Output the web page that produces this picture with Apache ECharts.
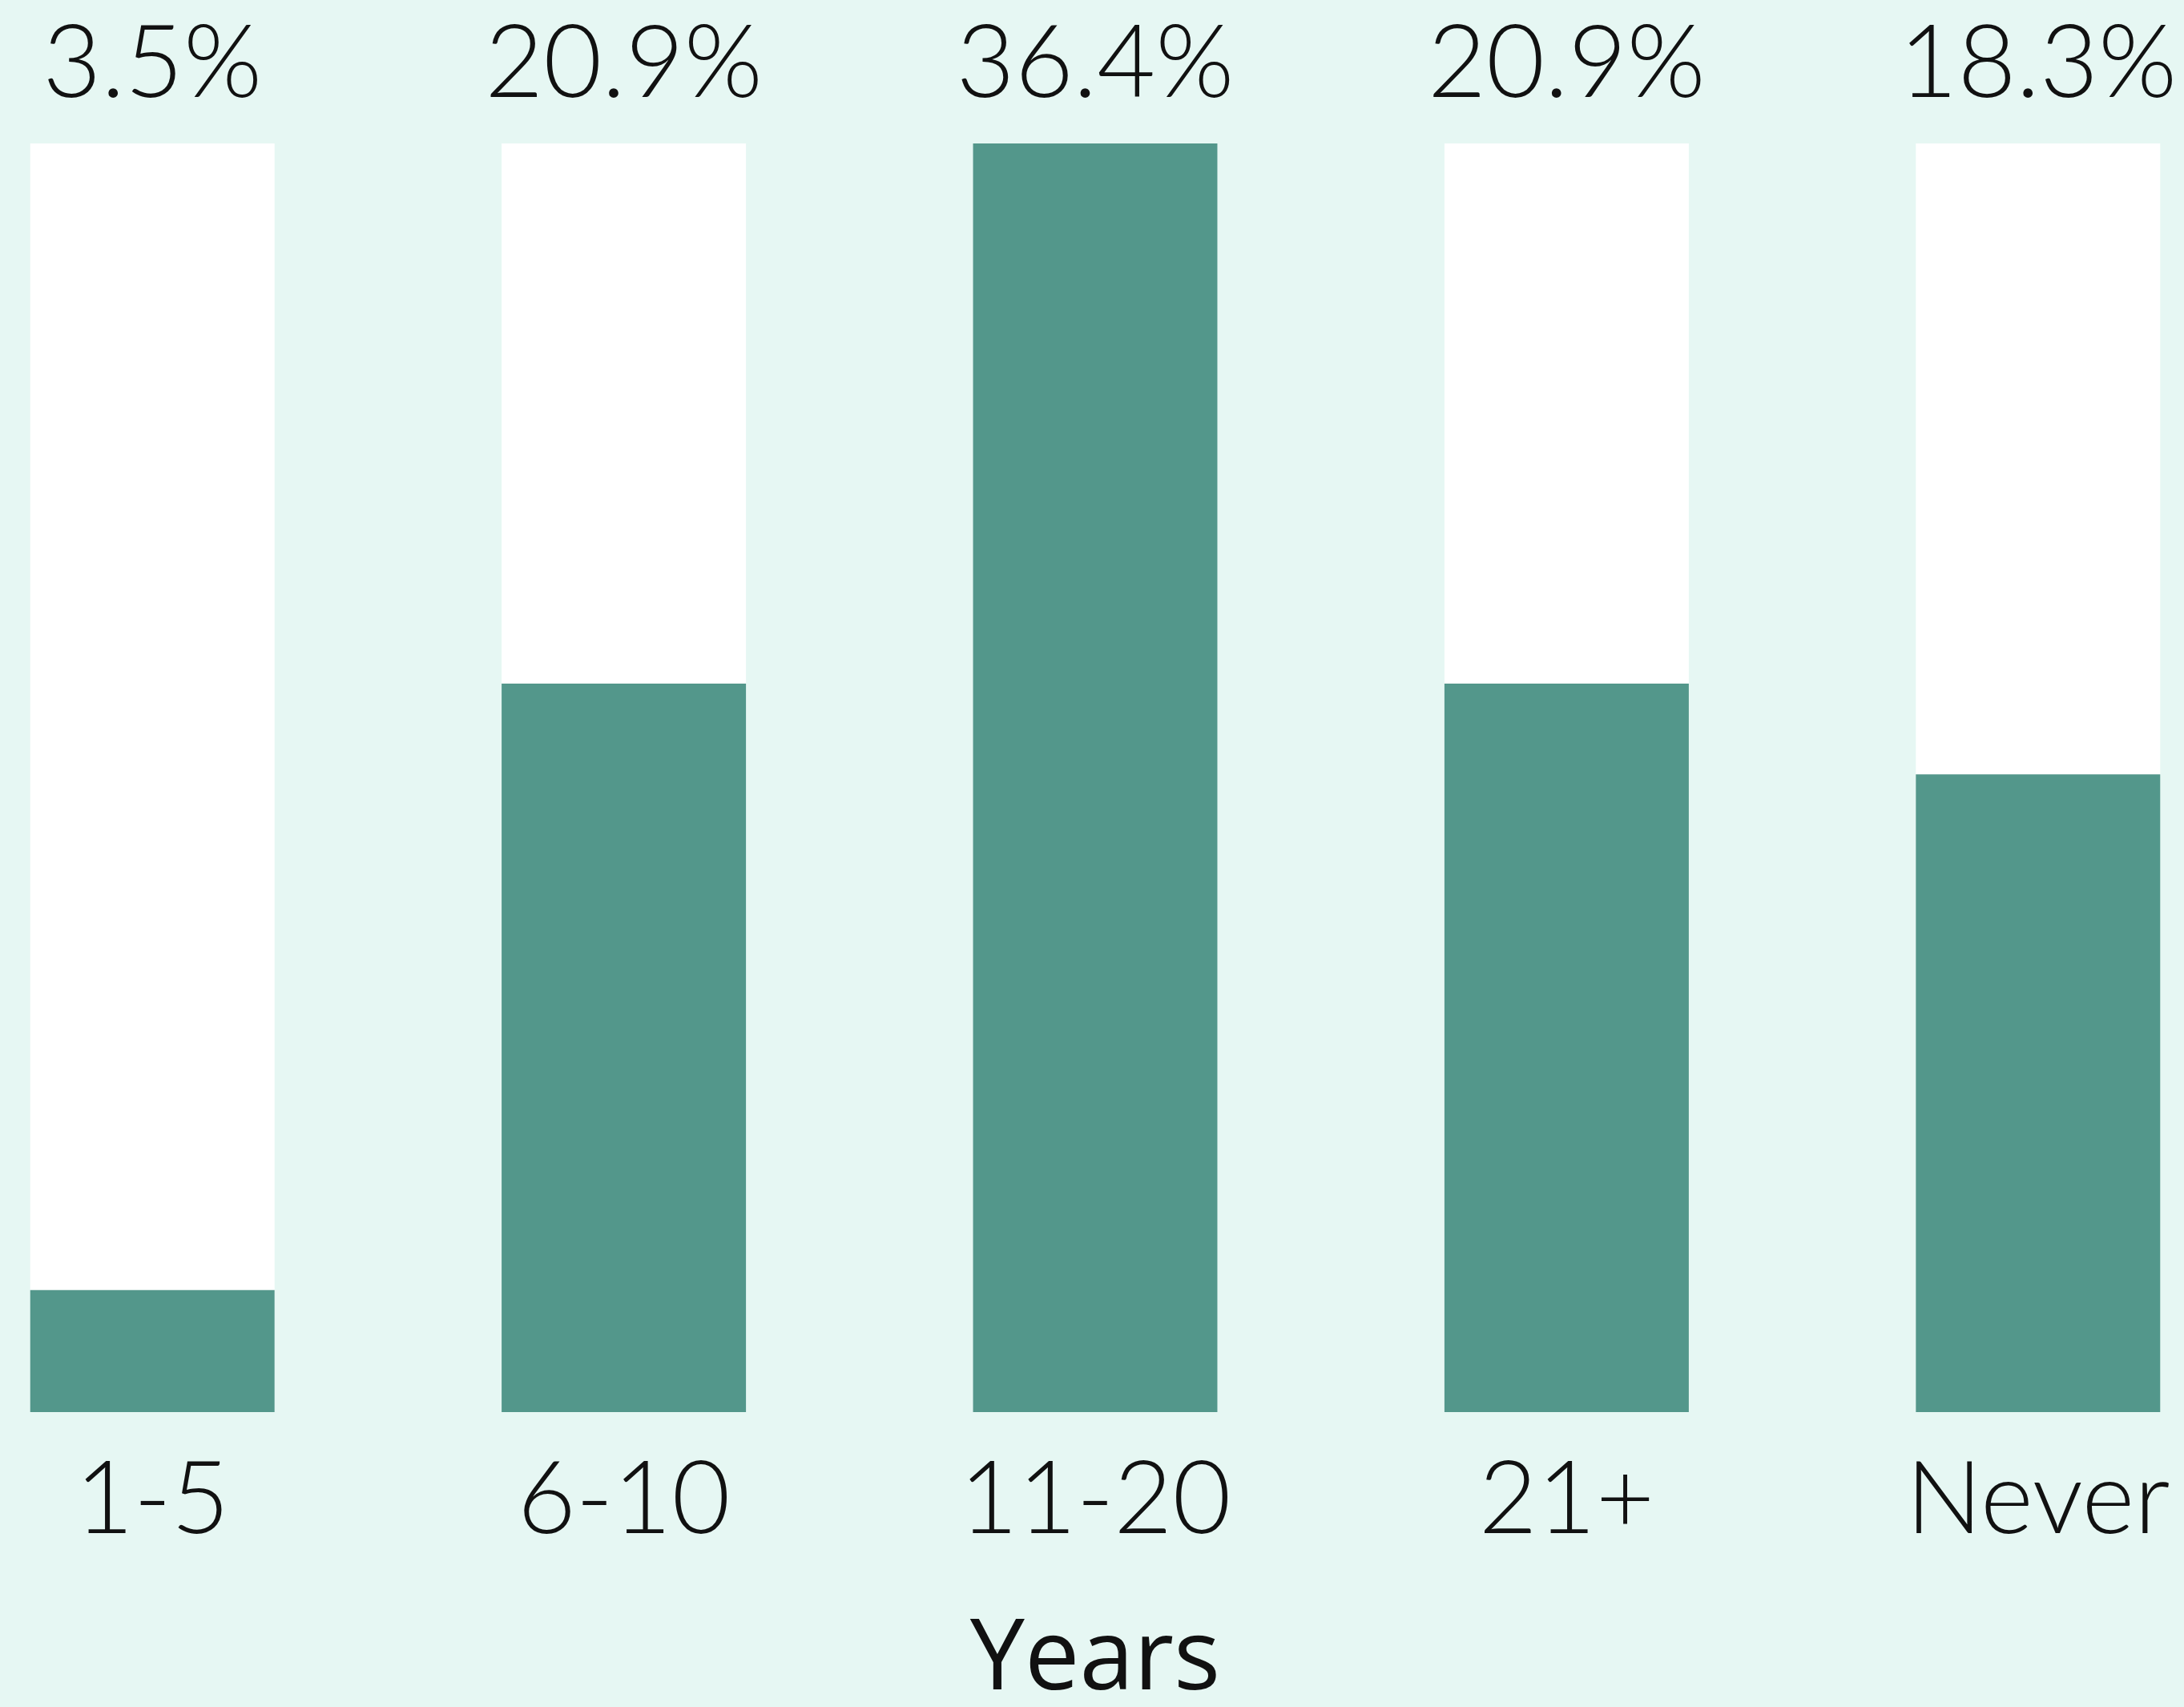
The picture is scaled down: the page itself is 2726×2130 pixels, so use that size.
<!DOCTYPE html>
<html>
<head>
<meta charset="utf-8">
<script src="https://cdn.jsdelivr.net/npm/echarts@6/dist/echarts.min.js"></script>
<style>
html,body{margin:0;padding:0;background:#e6f7f3;}
#chart{width:2726px;height:2130px;}
</style>
</head>
<body>
<div id="chart"></div>
<script>
const categories = ['1-5', '6-10', '11-20', '21+', 'Never'];
const values = [3.5, 20.9, 36.4, 20.9, 18.3];
const pctLabels = values.map(v => v.toFixed(1) + '%');
const axisTitle = 'Years';

const chart = echarts.init(document.getElementById('chart'), null, {renderer: 'canvas'});
chart.setOption({
  backgroundColor: '#e6f7f3',
  animation: false,
  grid: {left: -104, width: 2942, top: 179, bottom: 368, containLabel: false, outerBoundsMode: 'none'},
  xAxis: [
    {
      type: 'category',
      data: categories,
      position: 'bottom',
      axisLine: {show: false},
      axisTick: {show: false},
      axisLabel: {fontFamily: 'Lato', fontWeight: 300, fontSize: 126, color: '#111', margin: 47},
      name: axisTitle,
      nameLocation: 'middle',
      nameGap: 250,
      nameTextStyle: {fontFamily: 'Open Sans', fontWeight: 500, fontSize: 122, color: '#111'}
    },
    {
      type: 'category',
      data: pctLabels,
      position: 'top',
      axisLine: {show: false},
      axisTick: {show: false},
      axisLabel: {fontFamily: 'Lato', fontWeight: 300, fontSize: 126, color: '#111', margin: 36}
    }
  ],
  yAxis: {type: 'value', min: 0, max: 36.4, show: false, splitLine: {show: false}},
  series: [{
    type: 'bar',
    data: values,
    barWidth: 305,
    showBackground: true,
    backgroundStyle: {color: '#ffffff'},
    itemStyle: {color: '#53978b'}
  }]
});
</script>
</body>
</html>
